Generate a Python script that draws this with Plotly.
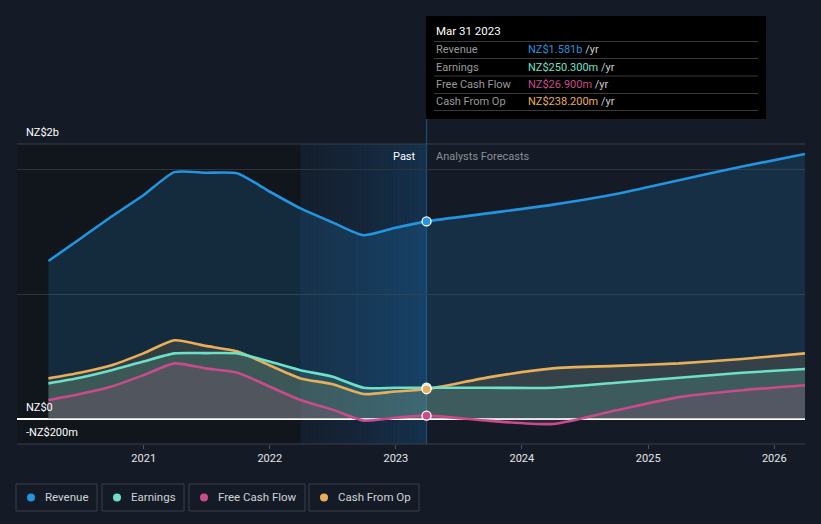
import plotly.graph_objects as go
import datetime as _dt

# ---------------- data (NZ$ billions) ----------------
past_dates = ['2020-03-31', '2020-06-30', '2020-09-30', '2020-12-31', '2021-03-31',
              '2021-06-30', '2021-09-30', '2021-12-31', '2022-03-31', '2022-06-30',
              '2022-09-30', '2022-12-31', '2023-03-31']
fc_dates = ['2023-09-30', '2024-03-31', '2024-09-30', '2025-03-31', '2025-09-30', '2026-03-31']

revenue_past = [1.264, 1.44, 1.62, 1.79, 1.975, 1.97, 1.965, 1.82, 1.685, 1.575, 1.47, 1.53, 1.581]
revenue_fc = [1.647, 1.715, 1.80, 1.91, 2.02, 2.12]

earnings_past = [0.285, 0.33, 0.39, 0.46, 0.525, 0.527, 0.525, 0.46, 0.39, 0.34, 0.25, 0.25, 0.2503]
earnings_fc = [0.25, 0.25, 0.29, 0.33, 0.37, 0.40]

fcf_past = [0.152, 0.20, 0.26, 0.35, 0.445, 0.405, 0.37, 0.26, 0.152, 0.077, -0.013, 0.01, 0.0269]
fcf_fc = [-0.015, -0.04, 0.07, 0.175, 0.23, 0.27]

cfo_past = [0.325, 0.37, 0.43, 0.525, 0.63, 0.585, 0.54, 0.43, 0.325, 0.28, 0.20, 0.22, 0.2382]
cfo_fc = [0.335, 0.405, 0.425, 0.445, 0.48, 0.525]

series_names = ['Revenue', 'Earnings', 'Free Cash Flow', 'Cash From Op']
tooltip_values = ['NZ$1.581b', 'NZ$250.300m', 'NZ$26.900m', 'NZ$238.200m']
tooltip_date = 'Mar 31 2023'
year_ticks = ['2021', '2022', '2023', '2024', '2025', '2026']
y_labels = ['NZ$2b', 'NZ$0', '-NZ$200m']

# ---------------- styling ----------------
colors = {'Revenue': '#2394df', 'Earnings': '#6ee0c8',
          'Free Cash Flow': '#c84b8a', 'Cash From Op': '#e8ae5a'}
fills = {'Revenue': 'rgba(35,148,223,0.17)', 'Earnings': 'rgba(110,224,200,0.16)',
         'Free Cash Flow': 'rgba(200,75,138,0.16)', 'Cash From Op': 'rgba(232,174,90,0.14)'}
BG = '#151b26'
FONT = 'Roboto'

W, H = 821, 524
L, R, T, B = 17, 805, 144, 444


def fx(px):
    return (px - L) / (R - L)


def fy(py):
    return (B - py) / (B - T)


all_dates = past_dates + fc_dates
data = {
    'Revenue': revenue_past + revenue_fc,
    'Earnings': earnings_past + earnings_fc,
    'Free Cash Flow': fcf_past + fcf_fc,
    'Cash From Op': cfo_past + cfo_fc,
}
order = ['Revenue', 'Cash From Op', 'Earnings', 'Free Cash Flow']
marker_order = ['Revenue', 'Earnings', 'Free Cash Flow', 'Cash From Op']

fig = go.Figure()
for name in order:
    fig.add_trace(go.Scatter(x=all_dates, y=data[name], mode='lines',
                             line=dict(width=0, shape='spline', smoothing=0.6),
                             fill='tozeroy', fillcolor=fills[name],
                             hoverinfo='skip', showlegend=False))
for name in order:
    fig.add_trace(go.Scatter(x=all_dates, y=data[name], mode='lines',
                             line=dict(width=2.6, color=colors[name], shape='spline', smoothing=0.6),
                             hoverinfo='skip', showlegend=False))
idx = len(past_dates) - 1
for name in marker_order:
    fig.add_trace(go.Scatter(x=[all_dates[idx]], y=[data[name][idx]], mode='markers',
                             marker=dict(size=9, color=colors[name], line=dict(color='white', width=1.3)),
                             hoverinfo='skip', showlegend=False))

shapes = []
shapes.append(dict(type='rect', xref='x', yref='paper', x0='2019-12-31', x1='2022-03-31',
                   y0=0, y1=1, fillcolor='#11151c', line=dict(width=0), layer='below'))
d0 = _dt.date(2022, 3, 31)
d1 = _dt.date(2023, 3, 31)
n = 30
span = (d1 - d0).days
for i in range(n):
    a = d0 + _dt.timedelta(days=span * i / n)
    b = d0 + _dt.timedelta(days=span * (i + 1) / n)
    alpha = 0.10 + 0.40 * (i / (n - 1)) ** 1.2
    shapes.append(dict(type='rect', xref='x', yref='paper', x0=a.isoformat(), x1=b.isoformat(),
                       y0=0, y1=1, fillcolor=f'rgba(22,72,118,{alpha:.3f})',
                       line=dict(width=0), layer='below'))
shapes.append(dict(type='line', xref='x', yref='paper', x0=past_dates[-1], x1=past_dates[-1],
                   y0=0, y1=1, line=dict(color='#1f4d73', width=1.2), layer='below'))
shapes.append(dict(type='line', xref='x', yref='paper', x0=past_dates[-1], x1=past_dates[-1],
                   y0=1, y1=fy(119), line=dict(color='#1f4d73', width=1.2), layer='above'))
for py in (T, B):
    shapes.append(dict(type='line', xref='paper', yref='paper', x0=0, x1=1, y0=fy(py), y1=fy(py),
                       line=dict(color='#3a3f48', width=1), layer='below'))

shapes.append(dict(type='rect', xref='paper', yref='paper', x0=fx(426), x1=fx(766),
                   y0=fy(119), y1=fy(16), fillcolor='#000000', line=dict(width=0), layer='above'))
for py in (41.5, 58.5, 76, 93.5, 110.5):
    shapes.append(dict(type='line', xref='paper', yref='paper', x0=fx(434), x1=fx(758),
                       y0=fy(py), y1=fy(py), line=dict(color='#3a3a3a', width=1), layer='above'))

annotations = []
annotations.append(dict(xref='paper', yref='paper', x=fx(434), y=fy(31), text=tooltip_date,
                        showarrow=False, xanchor='left', yanchor='middle',
                        font=dict(family=FONT, size=11.5, color='#ffffff')))
row_y = [49.5, 67, 84.5, 101.5]
for name, val, py in zip(series_names, tooltip_values, row_y):
    annotations.append(dict(xref='paper', yref='paper', x=fx(434), y=fy(py), text=name,
                            showarrow=False, xanchor='left', yanchor='middle',
                            font=dict(family=FONT, size=11, color='#9a9a9a')))
    annotations.append(dict(xref='paper', yref='paper', x=fx(526), y=fy(py),
                            text=f"<span style='color:{colors[name]}'>{val}</span> /yr",
                            showarrow=False, xanchor='left', yanchor='middle',
                            font=dict(family=FONT, size=11, color='#cccccc')))

for lab, py in zip(y_labels, (132, 407, 432)):
    annotations.append(dict(xref='paper', yref='paper', x=fx(24), y=fy(py), text=lab,
                            showarrow=False, xanchor='left', yanchor='middle',
                            font=dict(family=FONT, size=11, color='#ffffff')))

annotations.append(dict(xref='paper', yref='paper', x=fx(418), y=fy(156), text='Past',
                        showarrow=False, xanchor='right', yanchor='middle',
                        font=dict(family=FONT, size=11, color='#ffffff')))
annotations.append(dict(xref='paper', yref='paper', x=fx(434), y=fy(156), text='Analysts Forecasts',
                        showarrow=False, xanchor='left', yanchor='middle',
                        font=dict(family=FONT, size=11, color='#8a8f98')))

legend_boxes = [(16, 97), (102, 184), (189, 305), (309, 419)]
for name, (x0, x1) in zip(series_names, legend_boxes):
    shapes.append(dict(type='rect', xref='paper', yref='paper', x0=fx(x0), x1=fx(x1),
                       y0=fy(511), y1=fy(484), line=dict(color='#3a3f48', width=1),
                       fillcolor='rgba(0,0,0,0)', layer='above'))
    cx, cy, r = x0 + 15, 497.5, 4
    shapes.append(dict(type='circle', xref='paper', yref='paper', x0=fx(cx - r), x1=fx(cx + r),
                       y0=fy(cy + r), y1=fy(cy - r), fillcolor=colors[name],
                       line=dict(width=0), layer='above'))
    annotations.append(dict(xref='paper', yref='paper', x=fx(x0 + 27), y=fy(497), text=name,
                            showarrow=False, xanchor='left', yanchor='middle',
                            font=dict(family=FONT, size=11.5, color='#cfd2d6')))

fig.update_layout(
    width=W, height=H,
    margin=dict(l=L, r=W - R, t=T, b=H - B, pad=0),
    paper_bgcolor=BG, plot_bgcolor=BG,
    shapes=shapes, annotations=annotations,
    showlegend=False,
    xaxis=dict(type='date', range=['2019-12-31', '2026-03-31'],
               tickvals=[f'{y}-01-01' for y in year_ticks], ticktext=year_ticks,
               showgrid=False, zeroline=False, showline=False,
               ticks='outside', ticklen=4, tickcolor='#4a4f58',
               tickfont=dict(family=FONT, size=11, color='#e6e6e6'), fixedrange=True),
    yaxis=dict(range=[-0.2, 2.2], tickvals=[1, 2], showticklabels=False,
               showgrid=True, gridcolor='#2f343d', gridwidth=1,
               zeroline=True, zerolinecolor='#ffffff', zerolinewidth=1.5,
               showline=False, fixedrange=True),
    font=dict(family=FONT),
)

fig.write_html('out.html', config={'displayModeBar': False},
               post_script="document.body.style.margin='0px';document.body.style.background='#151b26';")
